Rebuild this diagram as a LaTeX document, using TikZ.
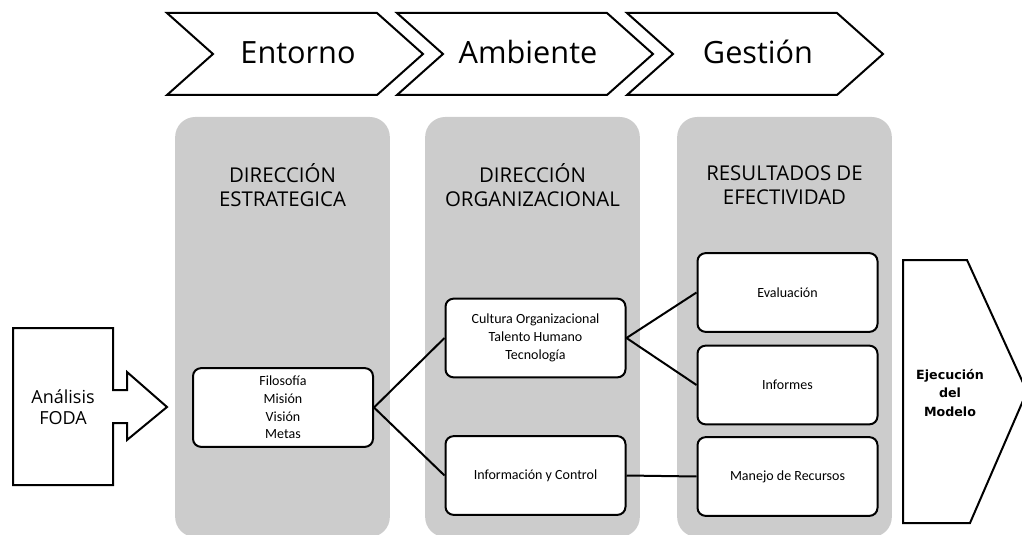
\documentclass[tikz,border=0pt]{standalone}
\usepackage{fontspec}
\setmainfont{Open Sans}
\newfontfamily\boxfont{Carlito}
\newfontfamily\boldfont{DejaVu Sans}
\usetikzlibrary{positioning}

\begin{document}
\begin{tikzpicture}[x=0.75pt, y=-0.75pt,
        outline/.style={draw, line width=1.5pt, line join=miter},
        panel/.style={fill=black!20, rounded corners=15pt, minimum width=161pt, minimum height=315pt},
        item/.style={draw, fill=white, line width=1.5pt, rounded corners=6pt, minimum width=135pt, minimum height=59pt, align=center, font=\boxfont\fontsize{10.5}{13.3}\selectfont},
        link/.style={line width=1.5pt}]
        \useasboundingbox (0,0) rectangle (1022,535);

        % Stage chevrons on top
        \foreach \i/\x/\name in {1/167/Entorno, 2/397/Ambiente, 3/627/Gestión} {
            \draw[outline, fill=white] (\x,13) -- ++(210,0) -- ++(46,41) -- ++(-46,41) -- ++(-210,0) -- ++(46,-41) -- cycle;
            \node [anchor=base, font=\fontsize{23}{27}\selectfont] (stage\i) at (\x+131,63.5) {\name};
        }

        % Gray columns with their titles
        \foreach \i/\x/\title in {1/282.5/{DIRECCIÓN\\ESTRATEGICA}, 2/532.5/{DIRECCIÓN\\ORGANIZACIONAL}, 3/784.5/{RESULTADOS DE\\EFECTIVIDAD}} {
            \node [panel] (panel\i) at (\x,327) {};
            \node [align=center, font=\fontsize{15.3}{18}\selectfont] (title\i) at (\x,185) {\title};
        }

        % Input arrow
        \draw[outline] (13,328) -- (113,328) -- (113,390) -- (127,390) -- (127,372) -- (167,407) -- (127,440) -- (127,423) -- (113,423) -- (113,485) -- (13,485) -- cycle;
        \node [align=center, font=\fontsize{13.5}{16}\selectfont] (foda) at (63,407.5) {Análisis\\FODA};

        % Output arrow (runs past the right edge)
        \draw[outline] (903,260) -- (967,260) -- (1027,391.5) -- (970,523) -- (903,523) -- cycle;
        \node [align=center, font=\boldfont\bfseries\fontsize{9.5}{14}\selectfont] (exec) at (950,393) {Ejecución\\del\\Modelo};

        % Content boxes
        \node [item] (filo) at (283,407.5) {Filosofía\\Misión\\Visión\\Metas};
        \node [item] (cultura) at (535.5,338) {Cultura Organizacional\\Talento Humano\\Tecnología};
        \node [item] (control) at (535.5,475.5) {Información y Control};
        \node [item] (eval) at (787.5,292.5) {Evaluación};
        \node [item] (informes) at (787.5,385) {Informes};
        \node [item] (recursos) at (787.5,476.5) {Manejo de Recursos};

        % Links between boxes
        \draw[link] (filo.east) -- (cultura.west);
        \draw[link] (filo.east) -- (control.west);
        \draw[link] (cultura.east) -- (eval.west);
        \draw[link] (cultura.east) -- (informes.west);
        \draw[link] (control.east) -- (recursos.west);
\end{tikzpicture}
\end{document}
